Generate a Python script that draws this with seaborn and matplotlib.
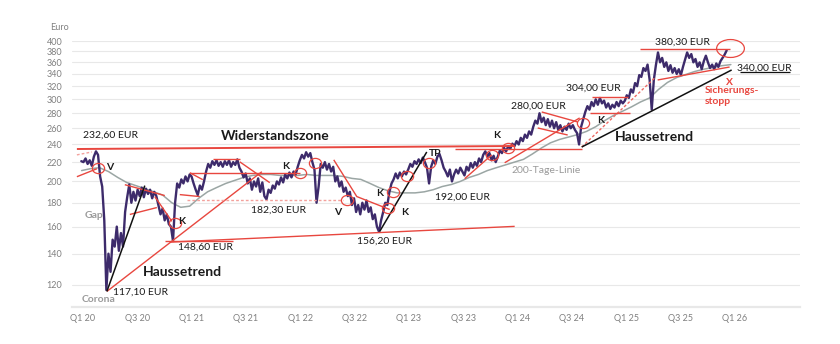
import numpy as np
import pandas as pd
import matplotlib
matplotlib.use("Agg")
import matplotlib.pyplot as plt
import seaborn as sns
from matplotlib.path import Path
from matplotlib.transforms import Affine2D
from matplotlib.ticker import FixedLocator, FixedFormatter, NullLocator

# ---------------- data (weekly closes) ----------------
price_2020 = [221, 220, 224, 218, 222, 216, 226, 232, 228, 205, 195, 165, 117, 140, 128, 150, 145,
              160, 142, 155, 145, 172, 185, 197, 180, 190, 182, 192, 186, 194, 185, 193, 188,
              192, 184, 190, 186, 178, 170, 175, 165, 170, 162, 160, 149, 180, 198, 194, 202,
              198, 205, 200, 207]
price_2021 = [205, 198, 192, 187, 196, 192, 200, 210, 218, 214, 221, 217, 222, 216, 220, 215,
              221, 217, 222, 215, 220, 217, 223, 214, 210, 204, 208, 198, 203, 192, 200, 195,
              203, 190, 199, 186, 183, 192, 189, 196, 193, 200, 197, 204, 199, 207, 203, 209,
              204, 210, 207, 215]
price_2022 = [222, 228, 224, 231, 226, 230, 220, 212, 180, 195, 218, 214, 220, 212, 218, 210,
              215, 200, 205, 195, 200, 190, 194, 186, 190, 178, 184, 172, 178, 170, 180, 174,
              182, 172, 176, 166, 170, 160, 156, 165, 172, 180, 178, 190, 198, 202, 208, 203,
              209, 205, 210, 207]
price_2023 = [212, 218, 215, 221, 218, 223, 219, 225, 220, 214, 198, 215, 222, 218, 226, 229,
              222, 214, 210, 205, 212, 200, 207, 212, 208, 214, 210, 206, 215, 211, 219, 214,
              220, 216, 224, 220, 228, 232, 226, 230, 222, 227, 220, 226, 233, 230, 236, 232,
              238, 235, 241, 238]
price_2024 = [244, 240, 248, 244, 252, 248, 256, 252, 262, 270, 266, 280, 268, 274, 264, 272,
              262, 270, 260, 268, 258, 264, 256, 262, 258, 266, 260, 264, 258, 254, 240, 262,
              272, 282, 290, 285, 296, 290, 300, 292, 302, 294, 298, 288, 294, 286, 292, 288,
              296, 290, 298, 294]
price_2025 = [298, 306, 302, 315, 310, 325, 320, 338, 335, 350, 345, 356, 330, 285, 330, 355,
              378, 360, 368, 352, 360, 345, 355, 342, 350, 340, 348, 338, 352, 365, 378, 368,
              375, 360, 366, 352, 360, 348, 362, 372, 360, 350, 356, 348, 358, 352, 362, 368,
              374, 382]
ma200 = [211, 213, 214, 210, 204, 199, 196, 193, 190, 187, 180, 176, 177, 184, 190, 194,
         198, 201, 204, 206, 207, 207, 206, 206, 206, 207, 206, 206, 206, 205, 203, 202,
         198, 194, 191, 189, 189, 189, 190, 192, 195, 197, 200, 204, 207, 211, 214, 217,
         220, 223, 229, 236, 242, 246, 249, 252, 256, 262, 270, 277, 283, 289, 296, 302,
         315, 326, 334, 339, 344, 348, 351, 354, 356]

y_ticks = [120, 140, 160, 180, 200, 220, 240, 260, 280, 300, 320, 340, 360, 380, 400]
x_tick_pos = [2020, 2020.5, 2021, 2021.5, 2022, 2022.5, 2023, 2023.5, 2024, 2024.5,
              2025, 2025.5, 2026]
x_tick_labels = ["Q1 20", "Q3 20", "Q1 21", "Q3 21", "Q1 22", "Q3 22", "Q1 23", "Q3 23",
                 "Q1 24", "Q3 24", "Q1 25", "Q3 25", "Q1 26"]

# ---------------- style ----------------
sns.set_theme(style="white")
plt.rcParams["font.family"] = ["Lato", "DejaVu Sans"]

RED = "#e8473f"
PINK = "#f3a19c"
PURPLE = "#3d2b6b"
GRAYLINE = "#9ba6a4"
TXT = "#1a1a1a"
LBL = "#9a9a9a"


def dec_year(idx):
    return idx.year + (idx.dayofyear - 1) / 365.25


price = price_2020 + price_2021 + price_2022 + price_2023 + price_2024 + price_2025
dates = pd.date_range("2019-12-27", periods=len(price), freq="7D")
df = pd.DataFrame({"t": dec_year(dates), "price": price})
ma_dates = pd.date_range("2019-12-28", "2025-12-19", periods=len(ma200))
dfm = pd.DataFrame({"t": dec_year(ma_dates), "ma": ma200})

fig = plt.figure(figsize=(8.4, 3.44), dpi=100)
ax = fig.add_axes([72 / 840, 37 / 344, 728 / 840, 266 / 344])

sns.lineplot(data=dfm, x="t", y="ma", color=GRAYLINE, lw=1.1, ax=ax, zorder=2)
sns.lineplot(data=df, x="t", y="price", color=PURPLE, lw=1.7, ax=ax, zorder=2.5)

ax.set_yscale("log")
ax.set_ylim(107.6, 400)
ax.set_xlim(2019.90, 2026.60)
ax.yaxis.set_major_locator(FixedLocator(y_ticks))
ax.yaxis.set_major_formatter(FixedFormatter([str(v) for v in y_ticks]))
ax.yaxis.set_minor_locator(NullLocator())
ax.xaxis.set_major_locator(FixedLocator(x_tick_pos))
ax.xaxis.set_major_formatter(FixedFormatter(x_tick_labels))
ax.set_xlabel("")
ax.set_ylabel("")
ax.grid(axis="y", color="#e8e8e8", lw=0.8)
ax.grid(axis="x", visible=False)
for s in ["top", "right", "left"]:
    ax.spines[s].set_visible(False)
ax.spines["bottom"].set_color("#e8e8e8")
ax.spines["bottom"].set_linewidth(1.6)
ax.tick_params(axis="y", length=0, pad=7, labelsize=6.5, labelcolor="#808080")
ax.tick_params(axis="x", length=0, pad=5, labelsize=6.5, labelcolor="#808080")
fig.text(50 / 840, 1 - 28 / 344, "Euro", fontsize=6.5, color="#808080", va="center")


# ---------------- annotations (decimal year, price) ----------------
def seg(pts, color=RED, lw=1.0, ls="-", z=3):
    xs, ys = zip(*pts)
    ax.plot(xs, ys, color=color, lw=lw, ls=ls, zorder=z, solid_capstyle="butt")


seg([(2019.945, 234.7), (2023.974, 238.2)], lw=1.4)
seg([(2019.945, 228.0), (2020.083, 231.3)], color=PINK, ls=(0, (2, 1.5)))
seg([(2019.945, 204.7), (2020.129, 212.9)])
seg([(2020.221, 116.2), (2021.647, 209.8)])
seg([(2020.754, 148.9), (2021.380, 148.9)])
seg([(2021.196, 223.6), (2021.444, 223.6)])
seg([(2020.984, 208.8), (2021.996, 208.8)])
seg([(2021.444, 220.3), (2021.720, 198.8)])
seg([(2020.957, 182.9), (2022.392, 182.9)], color=PINK, ls=(0, (2, 1.5)))
seg([(2020.386, 196.8), (2020.754, 186.5)])
seg([(2020.432, 169.9), (2020.681, 175.8)])
seg([(2020.662, 185.6), (2020.819, 164.2)])
seg([(2020.984, 208.8), (2021.104, 201.7)])
seg([(2020.892, 187.4), (2021.076, 185.6)])
seg([(2022.309, 222.5), (2022.521, 185.6), (2022.824, 174.1)])
seg([(2020.800, 148.2), (2023.974, 160.2)])
seg([(2023.514, 202.7), (2023.763, 228.0)])
seg([(2023.422, 234.7), (2024.591, 234.7)])
seg([(2023.882, 219.3), (2024.572, 273.6)])
seg([(2024.223, 281.8), (2024.554, 268.2)])
seg([(2024.186, 260.4), (2024.462, 251.5)])
seg([(2024.591, 237.0), (2025.262, 333.2)], color="#ee6a63", ls=(0, (2, 1.5)))
seg([(2024.683, 303.4), (2025.014, 303.4)])
seg([(2024.664, 280.4), (2025.032, 280.4)])
seg([(2025.290, 330.0), (2025.952, 351.8)])
seg([(2025.124, 384.5), (2025.952, 384.5)])
seg([(2020.221, 116.2), (2020.570, 195.9)], color="#111111", lw=1.1)
seg([(2022.732, 156.3), (2023.165, 231.3)], color="#111111", lw=1.1)
seg([(2024.591, 237.0), (2025.971, 346.7)], color="#111111", lw=1.1)
seg([(2026.044, 343.2), (2026.504, 343.2)], color="#111111", lw=0.9)

small_ell = Path.unit_circle().transformed(Affine2D().scale(1.2, 1.0))
big_ell = Path.unit_circle().transformed(Affine2D().scale(1.55, 1.0))
circ_x = [2020.138, 2020.846, 2021.996, 2022.134, 2022.429, 2022.806, 2022.852, 2022.981,
          2023.183, 2023.763, 2023.910, 2024.600]
circ_y = [214.0, 162.6, 208.8, 219.3, 182.9, 175.0, 190.2, 205.4, 219.3, 228.0, 235.9, 266.9]
ax.plot(circ_x, circ_y, ls="none", marker=small_ell, ms=8.8, mfc="none", mec=RED, mew=0.9,
        zorder=4)
ax.plot([2025.952], [386.4], ls="none", marker=big_ell, ms=20, mfc="none", mec=RED, mew=0.9,
        zorder=4, clip_on=False)


def txt(x, y, s, size=7.5, color=TXT, weight="normal", ha="center"):
    ax.text(x, y, s, fontsize=size, color=color, fontweight=weight, ha=ha, va="center",
            zorder=5, clip_on=False)


txt(2020.258, 251.5, "232,60 EUR")
txt(2020.248, 214.0, "V", weight="bold")
txt(2020.101, 169.1, "Gap", color=LBL, weight="bold")
txt(2020.911, 164.2, "K", weight="bold")
txt(2020.872, 144.4, "148,60 EUR", ha="left")
txt(2020.915, 128.0, "Haussetrend", size=10, weight="bold")
txt(2020.534, 115.6, "117,10 EUR")
txt(2020.147, 111.7, "Corona", color=LBL, weight="bold")
txt(2021.766, 250.3, "Widerstandszone", size=10, weight="bold")
txt(2021.868, 215.0, "K", weight="bold")
txt(2021.798, 173.3, "182,30 EUR")
txt(2022.346, 171.6, "V", weight="bold")
txt(2022.732, 188.3, "K", weight="bold")
txt(2022.962, 171.6, "K", weight="bold")
txt(2022.778, 148.9, "156,20 EUR")
txt(2023.238, 229.1, "TP", weight="bold")
txt(2023.491, 184.7, "192,00 EUR")
txt(2023.809, 250.3, "K", weight="bold")
txt(2024.259, 210.8, "200-Tage-Linie", color=LBL)
txt(2024.190, 290.0, "280,00 EUR")
txt(2024.701, 317.2, "304,00 EUR")
txt(2024.765, 269.5, "K", weight="bold")
txt(2025.262, 249.1, "Haussetrend", size=10, weight="bold")
txt(2025.520, 398.0, "380,30 EUR")
txt(2026.270, 350.0, "340,00 EUR")
txt(2025.952, 326.7, "X", color=RED, weight="bold")
txt(2025.722, 312.6, "Sicherungs-", color=RED, weight="bold", ha="left")
txt(2025.722, 297.0, "stopp", color=RED, weight="bold", ha="left")

fig.savefig("out.png", dpi=100)
